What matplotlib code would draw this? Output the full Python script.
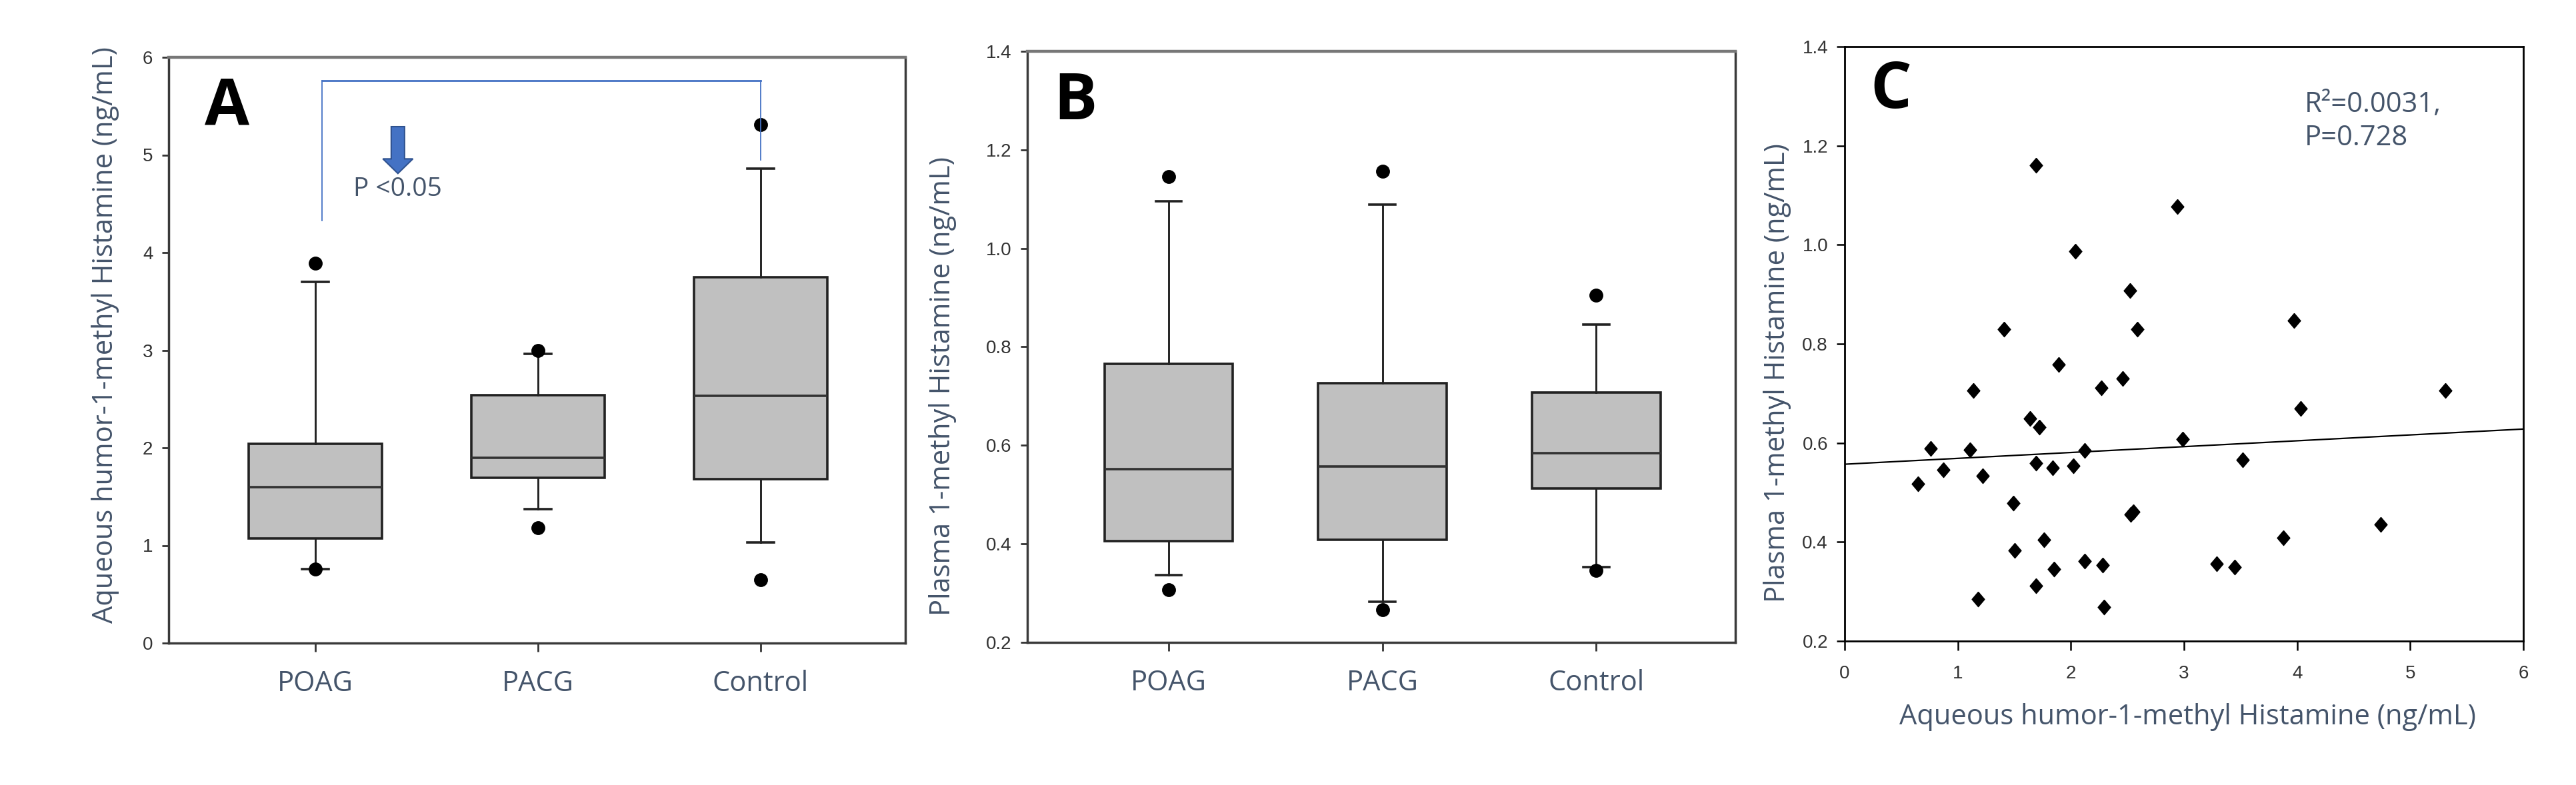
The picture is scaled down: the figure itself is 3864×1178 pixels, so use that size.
import matplotlib
matplotlib.use("Agg")
import matplotlib.pyplot as plt
from matplotlib.patches import FancyArrow
import numpy as np

# ---------------- data ----------------
groups = ["POAG", "PACG", "Control"]

# Panel A: aqueous humor 1-methyl histamine (ng/mL)
a_q1 = [1.07, 1.69, 1.68]
a_med = [1.60, 1.90, 2.53]
a_q3 = [2.04, 2.54, 3.75]
a_whislo = [0.76, 1.37, 1.03]
a_whishi = [3.70, 2.96, 4.86]
a_fliers = [[3.89, 0.76], [3.00, 1.18], [5.31, 0.65]]

# Panel B: plasma 1-methyl histamine (ng/mL)
b_q1 = [0.405, 0.408, 0.513]
b_med = [0.552, 0.557, 0.584]
b_q3 = [0.765, 0.726, 0.707]
b_whislo = [0.337, 0.283, 0.353]
b_whishi = [1.095, 1.089, 0.845]
b_fliers = [[1.145, 0.307], [1.156, 0.266], [0.905, 0.346]]

# Panel C: scatter aqueous vs plasma
c_x = [0.65, 0.76, 0.87, 1.11, 1.14, 1.22, 1.18, 1.41, 1.49, 1.50,
       1.64, 1.69, 1.72, 1.69, 1.69, 1.76, 1.84, 1.85, 1.89, 2.02,
       2.04, 2.12, 2.12, 2.27, 2.28, 2.29, 2.46, 2.52, 2.53, 2.55,
       2.59, 2.94, 2.99, 3.29, 3.45, 3.52, 3.88, 3.97, 4.03, 4.74, 5.31]
c_y = [0.518, 0.589, 0.546, 0.586, 0.706, 0.534, 0.285, 0.830, 0.478, 0.383,
       0.650, 1.160, 0.632, 0.559, 0.311, 0.405, 0.550, 0.345, 0.758, 0.554,
       0.987, 0.585, 0.362, 0.711, 0.354, 0.268, 0.730, 0.908, 0.455, 0.461,
       0.830, 1.077, 0.607, 0.356, 0.350, 0.566, 0.409, 0.847, 0.669, 0.436, 0.706]
reg_x = [0.0, 6.0]
reg_y = [0.557, 0.628]

a_yticks = [0, 1, 2, 3, 4, 5, 6]
b_yticks = [0.2, 0.4, 0.6, 0.8, 1.0, 1.2, 1.4]
c_xticks = [0, 1, 2, 3, 4, 5, 6]

# significance bracket (panel A)
bracket_x = [1.03, 1.03, 3.0, 3.0]
bracket_y = [4.33, 5.76, 5.76, 4.95]
sig_text = "P <0.05"
stat_line1 = "R²=0.0031,"
stat_line2 = "P=0.728"

# ---------------- style ----------------
LABEL_C = "#44546A"
TICK_C = "#333333"
BOX_FACE = "#C0C0C0"
ARROW_C = "#4472C4"
LAB_FONT = ["Open Sans", "DejaVu Sans"]
TICK_FONT = ["Liberation Sans", "DejaVu Sans"]

fig = plt.figure(figsize=(38.64, 11.78), dpi=100)
W, H = 3864, 1178

def px_axes(l, r, t, b):
    return fig.add_axes([l / W, 1 - b / H, (r - l) / W, (b - t) / H])

axA = px_axes(253, 1358, 86, 965)
axB = px_axes(1541, 2603, 77, 964)
axC = px_axes(2767, 3785, 70, 962)


def make_stats(q1, med, q3, lo, hi, fl):
    return [dict(label=g, q1=q1[i], med=med[i], q3=q3[i], whislo=lo[i],
                 whishi=hi[i], fliers=fl[i]) for i, g in enumerate(groups)]


def draw_box(ax, stats):
    ax.bxp(stats, positions=[1, 2, 3], widths=0.6, capwidths=0.12,
           patch_artist=True, showfliers=True,
           boxprops=dict(facecolor=BOX_FACE, edgecolor="#222222", linewidth=2.6),
           medianprops=dict(color="#333333", linewidth=2.6),
           whiskerprops=dict(color="#222222", linewidth=2.1),
           capprops=dict(color="#222222", linewidth=2.6),
           flierprops=dict(marker="o", markerfacecolor="black",
                           markeredgecolor="black", markersize=14))
    ax.set_xlim(0.34, 3.65)
    ax.set_xticks([1, 2, 3])
    ax.set_xticklabels(groups, fontsize=30, color=LABEL_C, family=LAB_FONT)
    ax.tick_params(axis="x", length=9, width=2.0, color="#333333", pad=20)
    ax.tick_params(axis="y", length=7, width=2.0, color="#333333", pad=10,
                   labelsize=20, labelcolor=TICK_C)
    for lab in ax.get_yticklabels():
        lab.set_family(TICK_FONT)
    for s in ax.spines.values():
        s.set_color("#3a3a3a")
        s.set_linewidth(2.5)
    ax.spines["top"].set_color("#777777")
    ax.spines["top"].set_linewidth(3.2)


# ---------- Panel A ----------
draw_box(axA, make_stats(a_q1, a_med, a_q3, a_whislo, a_whishi, a_fliers))
axA.set_ylim(0, 6)
axA.set_yticks(a_yticks)
axA.set_yticklabels([str(v) for v in a_yticks], family=TICK_FONT)
axA.set_ylabel("Aqueous humor-1-methyl Histamine (ng/mL)", fontsize=30,
               color=LABEL_C, family=LAB_FONT)
axA.yaxis.label.set_va("center")
axA.yaxis.set_label_coords(-0.086, 0.526)
axA.plot(bracket_x[:2], bracket_y[:2], color=ARROW_C, lw=1.3)
axA.plot(bracket_x[1:3], bracket_y[1:3], color=ARROW_C, lw=2.0)
axA.plot(bracket_x[2:], bracket_y[2:], color=ARROW_C, lw=1.3)
axA.add_patch(FancyArrow(1.37, 5.29, 0, -0.48, width=0.06, head_width=0.135,
                         head_length=0.15, length_includes_head=True,
                         facecolor=ARROW_C, edgecolor="#2F528F", linewidth=1.5))
axA.text(1.37, 4.65, sig_text, fontsize=28, color=LABEL_C, family=LAB_FONT,
         ha="center", va="center")
axA.text(0.049, 0.884, "A", transform=axA.transAxes, fontsize=70,
         fontweight="bold", family=LAB_FONT, color="black", va="baseline")

# ---------- Panel B ----------
draw_box(axB, make_stats(b_q1, b_med, b_q3, b_whislo, b_whishi, b_fliers))
axB.set_ylim(0.2, 1.4)
axB.set_yticks(b_yticks)
axB.set_yticklabels([f"{v:.1f}" for v in b_yticks], family=TICK_FONT)
axB.set_ylabel("Plasma 1-methyl Histamine (ng/mL)", fontsize=30,
               color=LABEL_C, family=LAB_FONT)
axB.yaxis.label.set_va("center")
axB.yaxis.set_label_coords(-0.1196, 0.433)
axB.text(0.037, 0.885, "B", transform=axB.transAxes, fontsize=70,
         fontweight="bold", family=LAB_FONT, color="black", va="baseline")

# ---------- Panel C ----------
diamond = [(0, 1), (0.85, 0), (0, -1), (-0.85, 0), (0, 1)]
axC.plot(c_x, c_y, linestyle="none", marker=diamond, markersize=16,
         markerfacecolor="black", markeredgecolor="black")
axC.plot(reg_x, reg_y, color="black", lw=1.6)
axC.set_xlim(0, 6)
axC.set_ylim(0.2, 1.4)
axC.set_xticks(c_xticks)
axC.set_xticklabels([str(v) for v in c_xticks], family=TICK_FONT)
axC.set_yticks(b_yticks)
axC.set_yticklabels([f"{v:.1f}" for v in b_yticks], family=TICK_FONT)
axC.tick_params(axis="x", length=10, width=1.8, color="black", pad=16,
                labelsize=20, labelcolor=TICK_C)
axC.tick_params(axis="y", length=9, width=1.8, color="black", pad=9,
                labelsize=20, labelcolor=TICK_C)
for s in axC.spines.values():
    s.set_color("black")
    s.set_linewidth(2.0)
axC.set_ylabel("Plasma 1-methyl Histamine (ng/mL)", fontsize=30,
               color=LABEL_C, family=LAB_FONT)
axC.yaxis.label.set_va("center")
axC.yaxis.set_label_coords(-0.0992, 0.451)
axC.set_xlabel("Aqueous humor-1-methyl Histamine (ng/mL)", fontsize=30,
               color=LABEL_C, family=LAB_FONT)
axC.xaxis.label.set_va("center")
axC.xaxis.set_label_coords(0.505, -0.128)
axC.text(0.678, 0.890, stat_line1, transform=axC.transAxes, fontsize=30,
         color=LABEL_C, family=LAB_FONT, va="baseline")
axC.text(0.678, 0.834, stat_line2, transform=axC.transAxes, fontsize=30,
         color=LABEL_C, family=LAB_FONT, va="baseline")
axC.text(0.038, 0.897, "C", transform=axC.transAxes, fontsize=70,
         fontweight="bold", family=LAB_FONT, color="black", va="baseline")

fig.savefig("out.png", dpi=100, facecolor="white")
